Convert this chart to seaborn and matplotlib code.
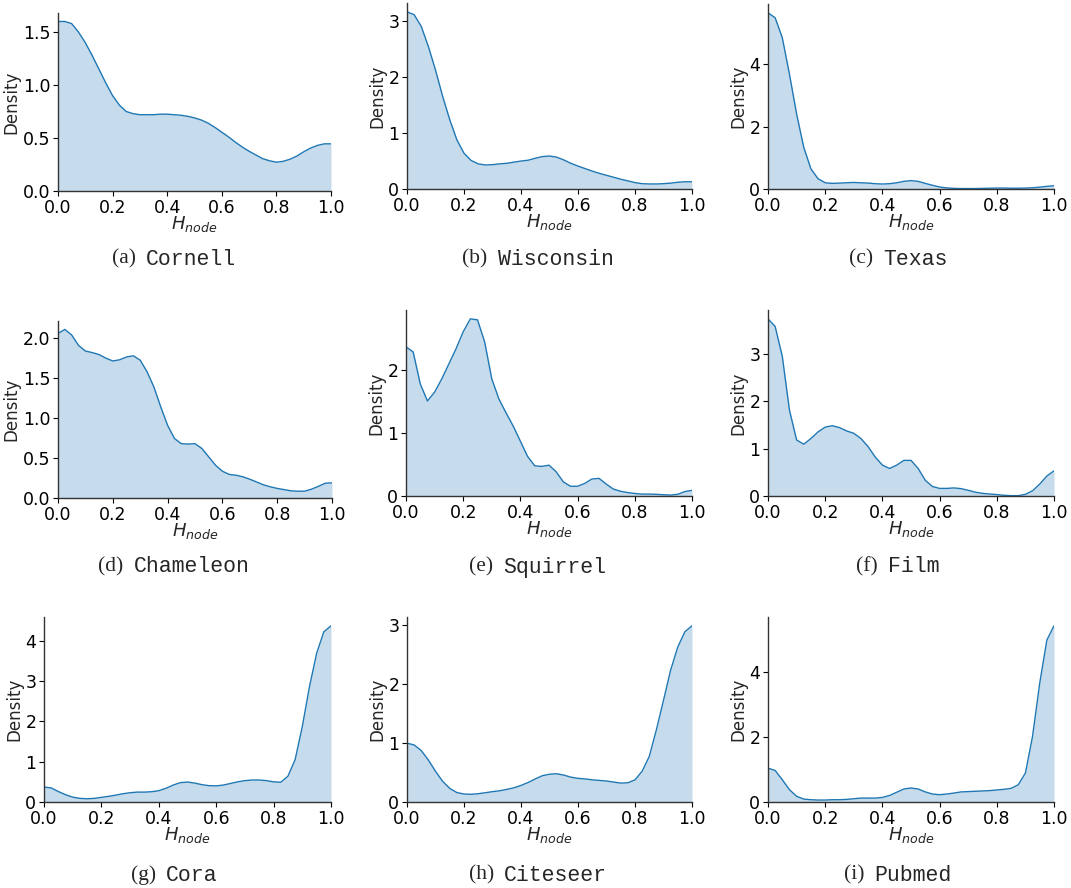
import numpy as np
import matplotlib
matplotlib.use("Agg")
import matplotlib.pyplot as plt
import seaborn as sns

# density values, on a common H_node grid (step 0.025)
H_GRID = np.linspace(0.0, 1.0, 41)

cornell = [1.60, 1.60, 1.58, 1.50, 1.40, 1.28, 1.15, 1.02, 0.90, 0.81, 0.75, 0.73, 0.72, 0.72,
           0.72, 0.725, 0.725, 0.72, 0.715, 0.705, 0.69, 0.67, 0.64, 0.60, 0.555, 0.51, 0.46,
           0.415, 0.375, 0.34, 0.305, 0.285, 0.272, 0.28, 0.30, 0.33, 0.37, 0.405, 0.43, 0.445, 0.445]
wisconsin = [3.17, 3.12, 2.91, 2.55, 2.13, 1.66, 1.24, 0.88, 0.64, 0.51, 0.45, 0.43, 0.435, 0.45,
             0.46, 0.48, 0.50, 0.515, 0.55, 0.58, 0.59, 0.57, 0.52, 0.46, 0.41, 0.365, 0.32, 0.28,
             0.245, 0.21, 0.175, 0.145, 0.115, 0.095, 0.09, 0.09, 0.095, 0.105, 0.12, 0.13, 0.13]
texas = [5.66, 5.50, 4.86, 3.69, 2.41, 1.34, 0.65, 0.33, 0.20, 0.18, 0.19, 0.20, 0.21, 0.20,
         0.19, 0.17, 0.16, 0.17, 0.20, 0.245, 0.27, 0.245, 0.18, 0.12, 0.065, 0.035, 0.02, 0.015,
         0.015, 0.015, 0.02, 0.025, 0.03, 0.03, 0.025, 0.025, 0.03, 0.04, 0.06, 0.085, 0.105]
chameleon = [2.06, 2.11, 2.04, 1.91, 1.84, 1.82, 1.795, 1.75, 1.715, 1.73, 1.765, 1.78, 1.725,
             1.58, 1.39, 1.14, 0.91, 0.745, 0.68, 0.675, 0.68, 0.62, 0.515, 0.41, 0.335, 0.295,
             0.285, 0.265, 0.235, 0.20, 0.165, 0.14, 0.12, 0.105, 0.09, 0.085, 0.085, 0.11, 0.145,
             0.185, 0.19]
squirrel = [2.37, 2.29, 1.78, 1.51, 1.65, 1.86, 2.10, 2.34, 2.61, 2.815, 2.80, 2.45, 1.86, 1.54,
            1.32, 1.11, 0.87, 0.63, 0.48, 0.47, 0.49, 0.385, 0.225, 0.155, 0.155, 0.20, 0.27, 0.28,
            0.19, 0.11, 0.075, 0.055, 0.04, 0.03, 0.03, 0.027, 0.02, 0.015, 0.027, 0.07, 0.09]
film = [3.73, 3.57, 2.94, 1.81, 1.18, 1.09, 1.21, 1.35, 1.45, 1.48, 1.44, 1.37, 1.32, 1.21, 1.04,
        0.82, 0.65, 0.58, 0.65, 0.75, 0.75, 0.58, 0.33, 0.20, 0.16, 0.16, 0.17, 0.155, 0.12, 0.08,
        0.056, 0.042, 0.03, 0.015, 0.007, 0.007, 0.035, 0.11, 0.25, 0.42, 0.53]
cora = [0.37, 0.35, 0.26, 0.18, 0.12, 0.09, 0.08, 0.09, 0.115, 0.14, 0.17, 0.205, 0.23, 0.245,
        0.245, 0.255, 0.28, 0.34, 0.42, 0.48, 0.495, 0.47, 0.43, 0.405, 0.40, 0.42, 0.46, 0.50,
        0.53, 0.545, 0.545, 0.53, 0.50, 0.49, 0.64, 1.05, 1.87, 2.86, 3.69, 4.22, 4.37]
citeseer = [0.995, 0.965, 0.87, 0.71, 0.52, 0.35, 0.23, 0.16, 0.135, 0.13, 0.14, 0.157, 0.175,
            0.19, 0.213, 0.24, 0.28, 0.33, 0.39, 0.445, 0.47, 0.478, 0.455, 0.42, 0.40, 0.39,
            0.375, 0.365, 0.355, 0.337, 0.32, 0.325, 0.375, 0.52, 0.77, 1.22, 1.72, 2.23, 2.62,
            2.88, 2.98]
pubmed = [1.04, 0.97, 0.685, 0.38, 0.175, 0.09, 0.07, 0.06, 0.06, 0.07, 0.07, 0.08, 0.10, 0.12,
          0.12, 0.12, 0.14, 0.20, 0.30, 0.40, 0.43, 0.40, 0.31, 0.245, 0.225, 0.245, 0.275, 0.31,
          0.32, 0.33, 0.34, 0.35, 0.37, 0.39, 0.42, 0.53, 0.89, 2.02, 3.65, 4.98, 5.42]

datasets = ["Cornell", "Wisconsin", "Texas", "Chameleon", "Squirrel", "Film", "Cora", "Citeseer", "Pubmed"]
letters = ["a", "b", "c", "d", "e", "f", "g", "h", "i"]
series = [cornell, wisconsin, texas, chameleon, squirrel, film, cora, citeseer, pubmed]
yticks = [[0.0, 0.5, 1.0, 1.5], [0, 1, 2, 3], [0, 2, 4],
          [0.0, 0.5, 1.0, 1.5, 2.0], [0, 1, 2], [0, 1, 2, 3],
          [0, 1, 2, 3, 4], [0, 1, 2, 3], [0, 2, 4]]

# axes boxes in pixels: left, right, top, bottom
W, H = 1071, 888
boxes = [(58, 331, 13, 191), (407, 692, 3, 189), (768, 1054, 4, 189),
         (58, 332, 321, 498), (406, 692, 310, 496), (768, 1054, 310, 496),
         (44, 331, 617, 802), (407, 692, 617, 802), (768, 1054, 617, 802)]
cap_x = [174, 538, 898]
cap_y = [259, 567, 875]

sns.set_style("ticks")
plt.rcParams["font.family"] = ["DejaVu Sans"]
plt.rcParams["mathtext.fontset"] = "dejavusans"

fig = plt.figure(figsize=(W / 100, H / 100), dpi=100)
color = sns.color_palette("tab10")[0]

for i, (name, vals) in enumerate(zip(datasets, series)):
    l, r, t, b = boxes[i]
    ax = fig.add_axes([l / W, 1 - b / H, (r - l) / W, (b - t) / H])
    vals = np.array(vals)
    sns.lineplot(x=H_GRID, y=vals, ax=ax, color=color, linewidth=1.0)
    ax.fill_between(H_GRID, vals, 0, color=color, alpha=0.25, linewidth=0)
    ax.set_xlim(0, 1)
    ax.set_ylim(0, vals.max() * 1.05)
    ax.set_xticks([0.0, 0.2, 0.4, 0.6, 0.8, 1.0])
    ax.set_yticks(yticks[i])
    if isinstance(yticks[i][0], float):
        ax.set_yticklabels([f"{v:.1f}" for v in yticks[i]])
    ax.tick_params(labelsize=12.5, length=3.5, width=0.8, pad=2, colors="black")
    ax.set_xlabel("$H_{node}$", fontsize=13, labelpad=-2)
    ax.set_ylabel("Density", fontsize=12, labelpad=1.5)
    for s in ["left", "bottom"]:
        ax.spines[s].set_color("#333333")
        ax.spines[s].set_linewidth(1.0)
    sns.despine(ax=ax)

# sub-captions: "(x)" in serif, dataset name in typewriter font
fig.canvas.draw()
renderer = fig.canvas.get_renderer()
for i, (name, let) in enumerate(zip(datasets, letters)):
    cx = cap_x[i % 3]
    cy = 1 - cap_y[i // 3] / H
    t1 = fig.text(0, cy, f"({let})", fontsize=15.5, family="Liberation Serif", va="center", ha="left")
    t2 = fig.text(0, cy, name, fontsize=15.5, family="Liberation Mono", va="center", ha="left")
    w1 = t1.get_window_extent(renderer).width
    w2 = t2.get_window_extent(renderer).width
    gap = 10
    start = cx - (w1 + gap + w2) / 2
    t1.set_x(start / W)
    t2.set_x((start + w1 + gap) / W)

fig.savefig("out.png", dpi=100)
